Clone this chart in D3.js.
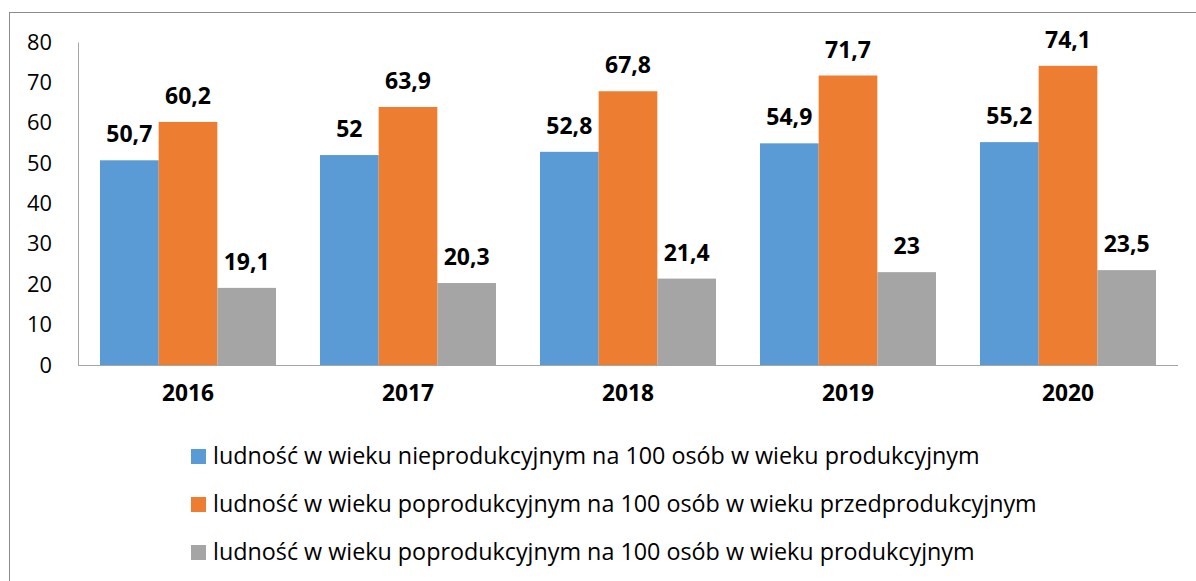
<!DOCTYPE html>
<html><head><meta charset="utf-8">
<script src="https://cdn.jsdelivr.net/npm/d3@7"></script>
<style>body{margin:0;background:#fff}svg{display:block}</style>
</head><body>
<svg id="c" width="1196" height="581"></svg>
<script>
const categories = ["2016","2017","2018","2019","2020"];
const seriesNames = [
  "ludność w wieku nieprodukcyjnym na 100 osób w wieku produkcyjnym",
  "ludność w wieku poprodukcyjnym na 100 osób w wieku przedprodukcyjnym",
  "ludność w wieku poprodukcyjnym na 100 osób w wieku produkcyjnym"
];
const s1 = [50.7, 52, 52.8, 54.9, 55.2];
const s2 = [60.2, 63.9, 67.8, 71.7, 74.1];
const s3 = [19.1, 20.3, 21.4, 23, 23.5];
const yTicks = [0,10,20,30,40,50,60,70,80];
const colors = ["#5b9bd5","#ed7d31","#a5a5a5"];
const series = [s1,s2,s3];

const svg = d3.select("#c");
const font = "'Open Sans', sans-serif";

// measure helper: font size so that sample text has target width
function fitSize(sample, target, weight){
  const t = svg.append("text").attr("font-family",font).attr("font-size",20)
    .attr("font-weight",weight).text(sample);
  const w = t.node().getComputedTextLength();
  t.remove();
  return 20*target/w;
}
const legSize = fitSize(seriesNames[0], 767, "normal");
const lblSize = fitSize("60,2", 46, "bold");
const xSize = fitSize("2016", 52, "bold");
const ySize = fitSize("80", 25, "normal");

svg.append("rect").attr("x",9.5).attr("y",12.5).attr("width",1200).attr("height",600)
  .attr("fill","none").attr("stroke","#8c8c8c").attr("stroke-width",1);

const x0 = d3.scaleBand().domain(categories).range([78,1178]).paddingInner(0.2).paddingOuter(0.1);
const x1 = d3.scaleBand().domain([0,1,2]).range([0,x0.bandwidth()]);
const y = d3.scaleLinear().domain([0,80]).range([365,42]);

const g = svg.append("g");
categories.forEach((c,i)=>{
  series.forEach((s,k)=>{
    g.append("rect").attr("x",x0(c)+x1(k)).attr("y",y(s[i]))
      .attr("width",x1.bandwidth()).attr("height",y(0)-y(s[i]))
      .attr("fill",colors[k]);
    g.append("text").attr("x",x0(c)+x1(k)+x1.bandwidth()/2).attr("y",y(s[i])-18)
      .attr("text-anchor","middle").attr("font-family",font).attr("font-weight","bold")
      .attr("font-size",lblSize).attr("fill","#000").text(String(s[i]).replace(".",","));
  });
});

const ya = d3.axisLeft(y).tickValues(yTicks).tickSize(0).tickPadding(26);
const yg = svg.append("g").attr("transform","translate(78,0)").call(ya);
yg.select(".domain").attr("stroke","#a6a6a6");
yg.selectAll("text").attr("font-family",font).attr("font-size",ySize).attr("fill","#000");

const xa = d3.axisBottom(x0).tickSize(0).tickPadding(20);
const xg = svg.append("g").attr("transform","translate(0,365)").call(xa);
xg.select(".domain").attr("stroke","#a6a6a6").attr("d","M78,0.5H1178");
xg.selectAll("text").attr("font-family",font).attr("font-size",xSize).attr("font-weight","bold").attr("fill","#000");

const ly = [456,504,552];
seriesNames.forEach((n,k)=>{
  svg.append("rect").attr("x",191).attr("y",ly[k]-7).attr("width",15).attr("height",15).attr("fill",colors[k]);
  svg.append("text").attr("x",213).attr("y",ly[k]).attr("dy","0.35em")
    .attr("font-family",font).attr("font-size",legSize).attr("fill","#000").text(n);
});
</script>
</body></html>
